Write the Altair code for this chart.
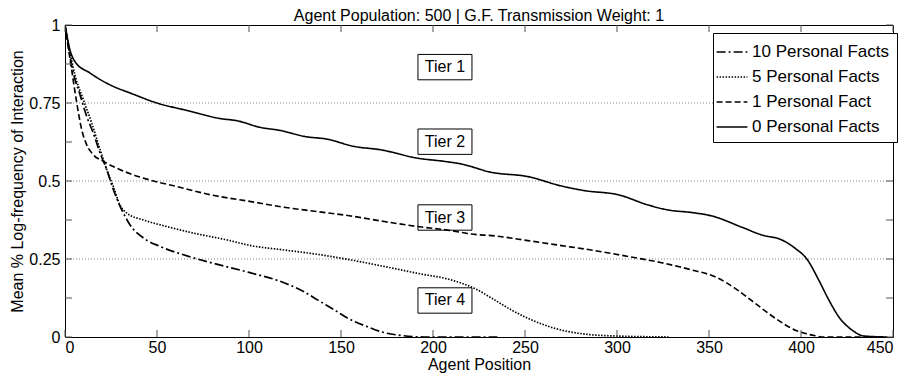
import altair as alt
import pandas as pd

# ---- data ----
s0_x = [0, 2.7, 5.4, 13.6, 24.5, 35.4, 50, 66.3, 84.5, 93.6, 106, 117, 130, 142.5, 157, 171.6, 191.7,
        206, 215, 231.6, 251.6, 269.8, 282.5, 300.6, 317, 327.9, 340.6, 351.5, 367.8, 378.7, 389.6,
        396.9, 403.3, 409.6, 415.1, 420.5, 427.8, 434.2, 447]
s0_y = [1, 0.92, 0.883, 0.846, 0.808, 0.782, 0.75, 0.726, 0.70, 0.693, 0.672, 0.662, 0.643, 0.634, 0.611,
        0.60, 0.573, 0.563, 0.555, 0.528, 0.514, 0.484, 0.469, 0.456, 0.423, 0.407, 0.399, 0.388, 0.352,
        0.327, 0.311, 0.284, 0.249, 0.183, 0.119, 0.065, 0.022, 0.003, 0]

s1_x = [0, 3.6, 6.4, 9.1, 11.8, 15.4, 20.9, 30, 44.5, 60.9, 79, 101, 119, 137.2, 155.3, 173.5, 191.7,
        209.8, 220.7, 233.4, 251.6, 269.8, 287.9, 306.1, 324.3, 340.6, 353.3, 364.2, 375.1, 386, 396.9,
        407.8, 412, 435]
s1_y = [1, 0.857, 0.75, 0.664, 0.616, 0.584, 0.563, 0.536, 0.506, 0.482, 0.456, 0.434, 0.416, 0.402,
        0.388, 0.370, 0.354, 0.341, 0.330, 0.324, 0.309, 0.293, 0.277, 0.258, 0.238, 0.215, 0.193, 0.156,
        0.108, 0.06, 0.022, 0.004, 0, 0]

s5_x = [0, 5.4, 10, 14.5, 19.1, 22.7, 26.3, 29.9, 33.6, 42.7, 55.4, 69.9, 88.1, 101, 119, 137.2, 155.3,
        173.5, 191.7, 209.8, 222.5, 233.4, 242.5, 251.6, 260.7, 269.8, 278.9, 291.6, 328]
s5_y = [1, 0.84, 0.76, 0.686, 0.60, 0.536, 0.482, 0.423, 0.397, 0.375, 0.354, 0.333, 0.311, 0.293, 0.279,
        0.265, 0.247, 0.226, 0.204, 0.183, 0.156, 0.119, 0.087, 0.06, 0.038, 0.022, 0.012, 0.005, 0]

s10_x = [0, 4.5, 8.2, 11.8, 15.4, 19.1, 22.7, 26.3, 30.9, 35.4, 42.7, 51.8, 66.3, 80.8, 100, 119, 129.9,
         137.2, 146.3, 155.3, 164.4, 173.5, 182.6, 195, 235]
s10_y = [1, 0.846, 0.776, 0.707, 0.653, 0.589, 0.536, 0.472, 0.407, 0.359, 0.317, 0.29, 0.26, 0.236,
         0.207, 0.174, 0.145, 0.119, 0.087, 0.055, 0.033, 0.014, 0.005, 0, 0]

series_names = ["10 Personal Facts", "5 Personal Facts", "1 Personal Fact", "0 Personal Facts"]
series_data = [(s10_x, s10_y), (s5_x, s5_y), (s1_x, s1_y), (s0_x, s0_y)]

tier_labels = ["Tier 1", "Tier 2", "Tier 3", "Tier 4"]
tier_x = [206.5, 206.5, 206.5, 206.5]
tier_y = [0.865, 0.626, 0.383, 0.117]

x_ticks = [0, 50, 100, 150, 200, 250, 300, 350, 400, 450]
y_ticks = [0, 0.125, 0.25, 0.375, 0.5, 0.625, 0.75, 0.875, 1]
y_labels = [0, 0.25, 0.5, 0.75, 1]
grid_y = [0.25, 0.5, 0.75]

title = "Agent Population: 500 | G.F. Transmission Weight: 1"
x_title = "Agent Position"
y_title = "Mean % Log-frequency of Interaction"

# ---- build tables ----
rows = []
for name, (xs, ys) in zip(series_names, series_data):
    for i, (xv, yv) in enumerate(zip(xs, ys)):
        rows.append({"series": name, "x": xv, "y": yv, "i": i})
df = pd.DataFrame(rows)
tiers = pd.DataFrame({"label": tier_labels, "x": tier_x, "y": tier_y})
xt = pd.DataFrame({"x": x_ticks})
yt = pd.DataFrame({"y": y_ticks})
gy = pd.DataFrame({"y": grid_y})

W, H = 828, 312
FONT = "Liberation Sans"
TL = 7

xscale = alt.Scale(domain=[0, 450], nice=False, zero=False)
yscale = alt.Scale(domain=[0, 1], nice=False, zero=False)

lines = alt.Chart(df).mark_line(interpolate="monotone", color="black", clip=True).encode(
    x=alt.X("x:Q", scale=xscale,
            axis=alt.Axis(values=x_ticks, title=x_title, grid=False, domain=False, ticks=False,
                          labelPadding=2, titlePadding=1)),
    y=alt.Y("y:Q", scale=yscale,
            axis=alt.Axis(values=y_labels, title=y_title, grid=False, domain=False, ticks=False,
                          format=".2~f", labelPadding=5, titlePadding=3)),
    order="i:Q",
    strokeDash=alt.StrokeDash("series:N",
                              scale=alt.Scale(domain=series_names,
                                              range=[[9, 3, 2, 3], [1.5, 1.5], [6, 3], [1, 0]]),
                              legend=alt.Legend(title=None)),
    strokeWidth=alt.StrokeWidth("series:N",
                                scale=alt.Scale(domain=series_names, range=[1.7, 1.6, 2.6, 2.9]),
                                legend=alt.Legend(title=None)),
)

grid = alt.Chart(gy).mark_rule(color="#888888", strokeDash=[1, 2], strokeWidth=1).encode(
    y=alt.Y("y:Q", scale=yscale)
)

tick_style = dict(color="#555555", strokeWidth=1)
yt_left = alt.Chart(yt).mark_rule(**tick_style).encode(
    y=alt.Y("y:Q", scale=yscale), x=alt.value(0), x2=alt.value(TL))
yt_right = alt.Chart(yt).mark_rule(**tick_style).encode(
    y=alt.Y("y:Q", scale=yscale), x=alt.value(W - TL), x2=alt.value(W))
xt_bottom = alt.Chart(xt).mark_rule(**tick_style).encode(
    x=alt.X("x:Q", scale=xscale), y=alt.value(H - TL), y2=alt.value(H))
xt_top = alt.Chart(xt).mark_rule(**tick_style).encode(
    x=alt.X("x:Q", scale=xscale), y=alt.value(0), y2=alt.value(TL))

box = alt.Chart(tiers).mark_point(
    shape="M-1,-0.47L1,-0.47L1,0.47L-1,0.47Z", size=2916, filled=False,
    stroke="black", strokeWidth=1, opacity=1
).encode(x=alt.X("x:Q", scale=xscale), y=alt.Y("y:Q", scale=yscale))

txt = alt.Chart(tiers).mark_text(font=FONT, fontSize=16, color="black").encode(
    x=alt.X("x:Q", scale=xscale), y=alt.Y("y:Q", scale=yscale), text="label:N")

chart = alt.layer(grid, lines, yt_left, yt_right, xt_bottom, xt_top, box, txt).properties(
    width=W, height=H,
    title=alt.TitleParams(title, font=FONT, fontSize=16, fontWeight="normal", color="black", offset=-7),
    autosize=alt.AutoSizeParams(type="none"),
    padding={"left": 57, "top": 17, "right": 10, "bottom": 41},
).configure_view(
    stroke="black", strokeWidth=1
).configure_axis(
    labelFont=FONT, labelFontSize=16, labelColor="black",
    titleFont=FONT, titleFontSize=16, titleFontWeight="normal", titleColor="black",
).configure_legend(
    orient="none", legendX=648, legendY=8,
    strokeColor="black", fillColor="white", padding=7,
    labelFont=FONT, labelFontSize=17, labelColor="black", labelOffset=8,
    symbolType="M-1.4,0L1.4,0", symbolSize=484, symbolStrokeColor="black",
    symbolFillColor="transparent",
    rowPadding=5, labelLimit=300,
)

chart.save("out.html", embed_options={"renderer": "svg", "actions": False})
